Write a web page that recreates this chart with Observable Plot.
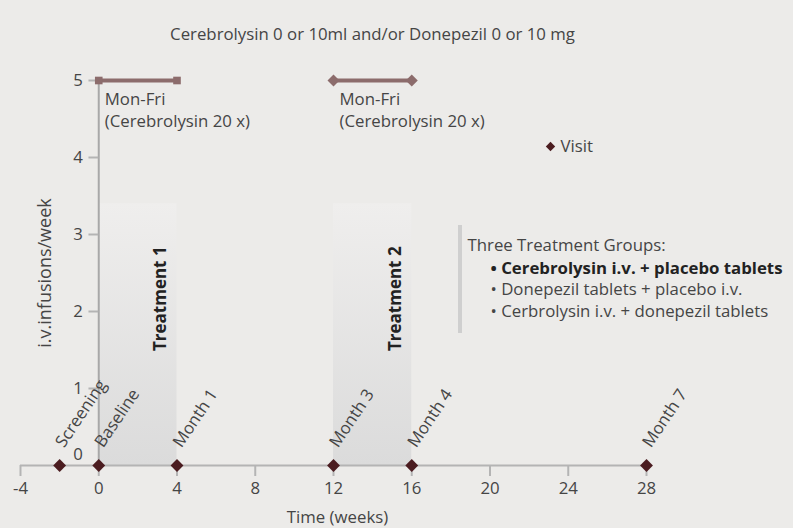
<!DOCTYPE html>
<html><head><meta charset="utf-8">
<script src="https://cdn.jsdelivr.net/npm/d3@7"></script>
<script src="https://cdn.jsdelivr.net/npm/@observablehq/plot@0.6"></script>
<style>
html,body{margin:0;padding:0;background:#ecebe9;}
#chart svg{display:block;}
</style></head><body><div id="chart"></div>
<script>
const title = "Cerebrolysin 0 or 10ml and/or Donepezil 0 or 10 mg";
const xLabel = "Time (weeks)";
const yLabel = "i.v.infusions/week";
const xTicks = [-4, 0, 4, 8, 12, 16, 20, 24, 28];
const yTicks = [0, 1, 2, 3, 4, 5];
const visitWeeks = [-2, 0, 4, 12, 16, 28];
const visitNames = ["Screening", "Baseline", "Month 1", "Month 3", "Month 4", "Month 7"];
const treatmentNames = ["Treatment 1", "Treatment 2"];
const treatmentStart = [0, 12];
const treatmentEnd = [4, 16];
const treatmentTop = [3.4, 3.4];
const infusionStart = [0, 12];
const infusionEnd = [4, 16];
const infusionRate = [5, 5];
const infusionMarker = ["square", "diamond2"];
const infusionNote = ["Mon-Fri\n(Cerebrolysin 20 x)", "Mon-Fri\n(Cerebrolysin 20 x)"];
const groupsTitle = "Three Treatment Groups:";
const groupNames = ["Cerebrolysin i.v. + placebo tablets", "Donepezil tablets + placebo i.v.", "Cerbrolysin i.v. + donepezil tablets"];
const legendLabel = "Visit";

const FONT = "Open Sans";
const FS = 16.8;
const TXT = "#454545";
const VISIT = "#4b1c20";
const INFUSION = "#8c6c6c";
const AXIS = "#b4b4b4";

const visits = visitWeeks.map((w, i) => ({week: w, name: visitNames[i]}));
const treatments = treatmentNames.map((n, i) => ({name: n, start: treatmentStart[i], end: treatmentEnd[i], top: treatmentTop[i]}));
const infusions = infusionStart.map((s, i) => ({start: s, end: infusionEnd[i], rate: infusionRate[i], marker: infusionMarker[i], note: infusionNote[i]}));
const infusionEnds = infusions.flatMap(d => [{week: d.start, rate: d.rate, marker: d.marker}, {week: d.end, rate: d.rate, marker: d.marker}]);
const boldGroup = "\u2022 " + groupNames[0];
const otherGroups = groupNames.slice(1).map(g => "\u2022 " + g).join("\n");

const chart = Plot.plot({
  width: 793,
  height: 528,
  marginLeft: 20,
  marginRight: 147,
  marginTop: 80,
  marginBottom: 63,
  style: {fontFamily: FONT, fontSize: FS + "px", background: "#ecebe9", color: TXT},
  x: {domain: [-4, 28]},
  y: {domain: [0, 5], axis: null},
  marks: [
    // treatment periods
    Plot.rect(treatments, {x1: "start", x2: "end", y1: 0, y2: "top", fill: "url(#tgrad)"}),
    // x axis
    Plot.ruleY([0], {stroke: AXIS, strokeWidth: 2}),
    Plot.axisX({ticks: xTicks, tickSize: 11, tickPadding: 6, stroke: AXIS, strokeWidth: 2, fill: TXT, fontSize: FS, label: null, tickFormat: d => String(d)}),
    // y axis at week 0
    Plot.ruleX([0], {y1: d3.min(yTicks), y2: d3.max(yTicks), stroke: "#a8a8a8", strokeWidth: 2}),
    Plot.ruleY(yTicks.filter(d => d > 0), {y: d => d, x1: -0.5, x2: 0, stroke: AXIS, strokeWidth: 2}),
    Plot.text(yTicks.filter(d => d > 0), {y: d => d, x: 0, text: d => String(d), dx: -16, textAnchor: "end", fill: TXT, fontSize: FS}),
    Plot.text(yTicks.filter(d => d === 0), {y: d => d, x: 0, text: d => String(d), dx: -16, dy: -11, textAnchor: "end", fill: TXT, fontSize: FS}),
    // treatment labels
    Plot.text(treatments, {x: "end", y: "top", text: "name", rotate: -90, dx: -16, dy: 95, textAnchor: "middle", fontWeight: "bold", fontSize: 17, fill: "#222"}),
    // infusion schedule
    Plot.ruleY(infusions, {y: "rate", x1: "start", x2: "end", stroke: INFUSION, strokeWidth: 4}),
    Plot.dot(infusionEnds.filter(d => d.marker === "square"), {x: "week", y: "rate", symbol: "square", r: 4.3, fill: INFUSION}),
    Plot.dot(infusionEnds.filter(d => d.marker !== "square"), {x: "week", y: "rate", symbol: "diamond2", r: 5.4, fill: INFUSION}),
    Plot.text(infusions, {x: "start", y: "rate", text: "note", dx: 6, dy: 9, textAnchor: "start", lineAnchor: "top", lineHeight: 1.3, fill: TXT, fontSize: FS}),
    // visits
    Plot.dot(visits, {x: "week", y: 0, symbol: "diamond2", r: 5.8, fill: VISIT}),
    Plot.text(visits, {x: "week", y: 0, text: "name", rotate: -56, dx: 0, dy: -20, textAnchor: "start", fill: TXT, fontSize: FS}),
    // title and axis labels
    Plot.text([title], {frameAnchor: "top-left", text: d => d, dx: 352, dy: -46, textAnchor: "middle", lineAnchor: "middle", fill: TXT, fontSize: FS}),
    Plot.text([xLabel], {frameAnchor: "bottom-left", text: d => d, dx: 317, dy: 52, textAnchor: "middle", lineAnchor: "middle", fill: TXT, fontSize: FS}),
    Plot.text([yLabel], {frameAnchor: "left", text: d => d, dx: 25, rotate: -90, textAnchor: "middle", lineAnchor: "middle", fill: TXT, fontSize: 18}),
    // visit legend
    Plot.dot([legendLabel], {frameAnchor: "top-left", symbol: "diamond2", r: 4.2, fill: VISIT, dx: 530, dy: 66}),
    Plot.text([legendLabel], {frameAnchor: "top-left", text: d => d, dx: 540, dy: 66, textAnchor: "start", lineAnchor: "middle", fill: TXT, fontSize: FS}),
    // treatment groups legend
    Plot.rect([groupsTitle], {fill: "#cfcfcf", insetLeft: 438, insetRight: 184, insetTop: 145, insetBottom: 132}),
    Plot.text([groupsTitle], {frameAnchor: "top-left", text: d => d, dx: 447, dy: 165, textAnchor: "start", lineAnchor: "middle", fill: TXT, fontSize: FS}),
    Plot.text([boldGroup], {frameAnchor: "top-left", text: d => d, dx: 470, dy: 188, textAnchor: "start", lineAnchor: "middle", fill: "#222", fontWeight: "bold", fontSize: FS}),
    Plot.text([otherGroups], {frameAnchor: "top-left", text: d => d, dx: 470, dy: 199.5, textAnchor: "start", lineAnchor: "top", lineHeight: 1.28, fill: TXT, fontSize: FS})
  ]
});

const ns = "http://www.w3.org/2000/svg";
const defs = document.createElementNS(ns, "defs");
defs.innerHTML = '<linearGradient id="tgrad" x1="0" y1="0" x2="0" y2="1"><stop offset="0" stop-color="#efeeed"/><stop offset="1" stop-color="#dbdbdb"/></linearGradient>';
chart.insertBefore(defs, chart.firstChild);
document.getElementById("chart").appendChild(chart);
</script></body></html>
